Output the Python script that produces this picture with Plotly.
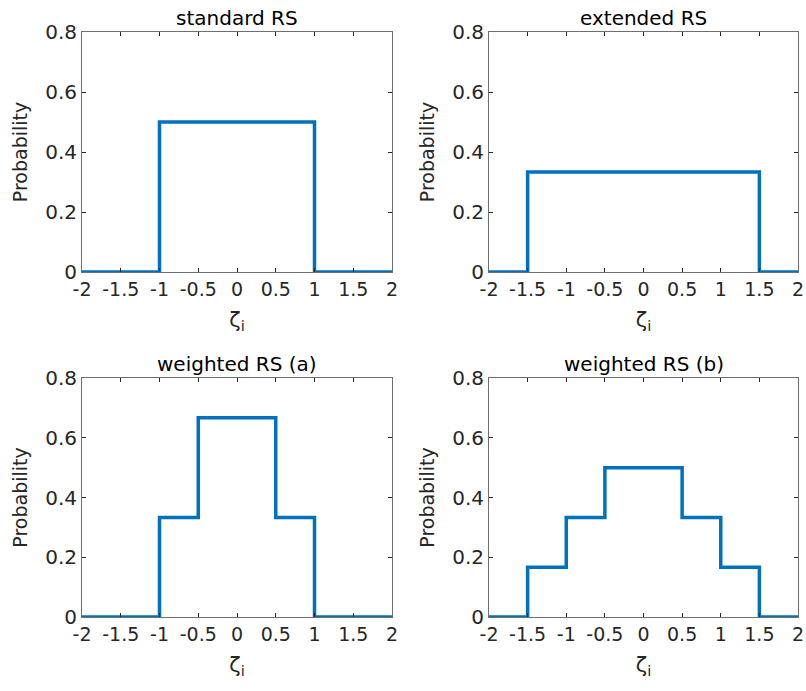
import plotly.graph_objects as go
from plotly.subplots import make_subplots

# Data: step edges and probability for each interval (hv steps)
titles = ["standard RS", "extended RS", "weighted RS (a)", "weighted RS (b)"]
x_standard = [-2, -1, 1, 2]
p_standard = [0, 0.5, 0, 0]
x_extended = [-2, -1.5, 1.5, 2]
p_extended = [0, 1/3, 0, 0]
x_weighted_a = [-2, -1, -0.5, 0.5, 1, 2]
p_weighted_a = [0, 1/3, 2/3, 1/3, 0, 0]
x_weighted_b = [-2, -1.5, -1, -0.5, 0.5, 1, 1.5, 2]
p_weighted_b = [0, 1/6, 1/3, 1/2, 1/3, 1/6, 0, 0]

x_ticks = [-2, -1.5, -1, -0.5, 0, 0.5, 1, 1.5, 2]
x_ticklabels = ["-2", "-1.5", "-1", "-0.5", "0", "0.5", "1", "1.5", "2"]
y_ticks = [0, 0.2, 0.4, 0.6, 0.8]
y_ticklabels = ["0", "0.2", "0.4", "0.6", "0.8"]

series = [(x_standard, p_standard), (x_extended, p_extended),
          (x_weighted_a, p_weighted_a), (x_weighted_b, p_weighted_b)]

W, H = 806, 691
FONT = "DejaVu Sans, sans-serif"
LINE = "#0072BD"
AX = "#262626"

fig = make_subplots(rows=2, cols=2)

def px_x(p):
    return p / W

def px_y(p):
    return 1 - p / H

xdom = [[px_x(82), px_x(392)], [px_x(489), px_x(798)]]
ydom = [[px_y(272), px_y(32)], [px_y(617), px_y(378)]]

for i, (xs, ps) in enumerate(series):
    r, c = i // 2 + 1, i % 2 + 1
    fig.add_trace(go.Scatter(x=xs, y=ps, mode="lines", line_shape="hv",
                             line=dict(color=LINE, width=3.5),
                             showlegend=False, hoverinfo="skip"), row=r, col=c)
    fig.update_xaxes(row=r, col=c, domain=xdom[c - 1], range=[-2, 2],
                     automargin=False,
                     tickvals=x_ticks, ticktext=x_ticklabels,
                     ticks="inside", ticklen=4, tickcolor=AX, mirror="ticks",
                     showline=True, linecolor="#6e6e6e", linewidth=1,
                     showgrid=False, zeroline=False,
                     tickfont=dict(family=FONT, size=19, color=AX),
                     title=dict(text="ζ<sub>i</sub>", standoff=13,
                                font=dict(family=FONT, size=21, color=AX)))
    fig.update_yaxes(row=r, col=c, domain=ydom[r - 1], range=[0, 0.8],
                     automargin=False,
                     tickvals=y_ticks, ticktext=y_ticklabels,
                     ticks="inside", ticklen=4, tickcolor=AX, mirror="ticks",
                     showline=True, linecolor="#6e6e6e", linewidth=1,
                     showgrid=False, zeroline=False,
                     tickfont=dict(family=FONT, size=20, color=AX),
                     title=dict(text="Probability", standoff=12,
                                font=dict(family=FONT, size=19, color=AX)))
    xc = (xdom[c - 1][0] + xdom[c - 1][1]) / 2
    fig.add_annotation(x=xc, y=ydom[r - 1][1], xref="paper", yref="paper",
                       text=titles[i], showarrow=False,
                       xanchor="center", yanchor="bottom",
                       yshift=0, font=dict(family=FONT, size=20, color="#000000"))

fig.update_layout(width=W, height=H, margin=dict(l=0, r=0, t=0, b=0),
                  plot_bgcolor="white", paper_bgcolor="white",
                  font=dict(family=FONT))

fig.write_html("out.html", config={"displayModeBar": False},
               post_script="document.body.style.margin='0';document.body.style.overflow='hidden';")
